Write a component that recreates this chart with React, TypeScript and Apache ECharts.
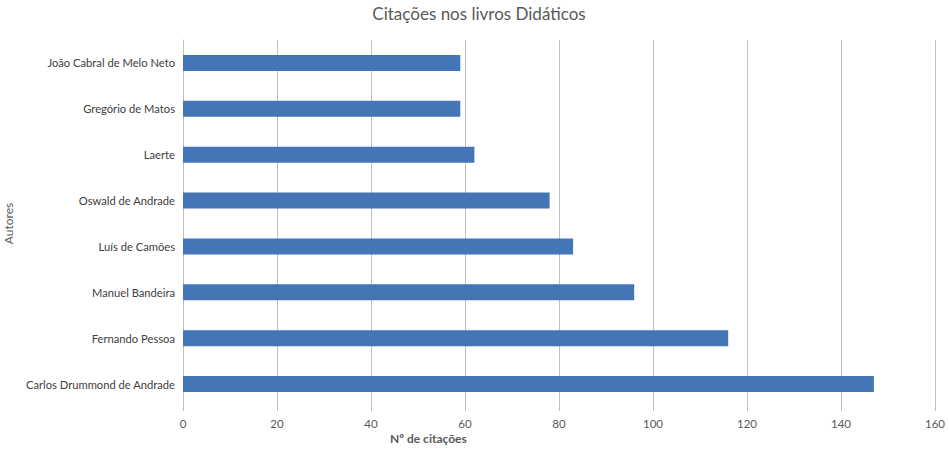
import React, { useEffect, useRef } from "react";
import * as echarts from "echarts";

// Authors, top to bottom as they appear on the axis
const authors = [
  "João Cabral de Melo Neto",
  "Gregório de Matos",
  "Laerte",
  "Oswald de Andrade",
  "Luís de Camões",
  "Manuel Bandeira",
  "Fernando Pessoa",
  "Carlos Drummond de Andrade",
];
const citations = [59, 59, 62, 78, 83, 96, 116, 147];

const xTicks = { min: 0, max: 160, interval: 20 };

const FONT = "Lato, 'Open Sans', sans-serif";
const TEXT = "#595959";

export default function App() {
  const ref = useRef<HTMLDivElement>(null);

  useEffect(() => {
    if (!ref.current) return;
    const chart = echarts.init(ref.current, undefined, { renderer: "svg" });
    chart.setOption({
      animation: false,
      backgroundColor: "#ffffff",
      title: {
        text: "Citações nos livros Didáticos",
        left: 474,
        top: 0,
        textAlign: "center",
        textStyle: { color: TEXT, fontFamily: FONT, fontSize: 17, fontWeight: "normal" },
      },
      grid: {
        left: 183,
        right: 14,
        top: 40,
        bottom: 44,
        containLabel: false,
        outerBoundsMode: "none",
      },
      xAxis: {
        type: "value",
        min: xTicks.min,
        max: xTicks.max,
        interval: xTicks.interval,
        axisLine: { show: false },
        axisTick: { show: true, length: 4, lineStyle: { color: "#bfbfbf" } },
        splitLine: { show: true, lineStyle: { color: "#bfbfbf", width: 1 } },
        axisLabel: { color: TEXT, fontFamily: FONT, fontSize: 11.5, margin: 10 },
      },
      yAxis: {
        type: "category",
        data: authors,
        inverse: true,
        name: "Autores",
        nameLocation: "middle",
        nameGap: 155,
        nameRotate: 90,
        nameTextStyle: { color: TEXT, fontFamily: FONT, fontSize: 12 },
        axisLine: { show: true, lineStyle: { color: "#bfbfbf" } },
        axisTick: { show: false },
        axisLabel: { color: "#404040", fontFamily: FONT, fontSize: 11.2, margin: 8 },
      },
      series: [
        {
          type: "bar",
          data: citations,
          barWidth: 16,
          itemStyle: { color: "#4375b7" },
        },
      ],
      graphic: [
        {
          type: "text",
          left: 390,
          top: 432,
          style: {
            text: "Nº de citações",
            fill: TEXT,
            font: `bold 12px ${FONT}`,
          },
        },
      ],
    });
    return () => chart.dispose();
  }, []);

  return (
    <div
      ref={ref}
      style={{ position: "fixed", left: 0, top: 0, width: 949, height: 451 }}
    />
  );
}
